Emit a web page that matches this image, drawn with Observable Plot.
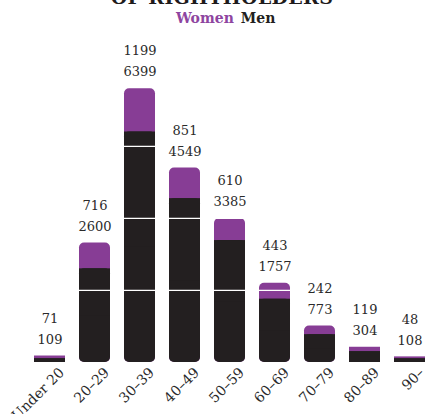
<!DOCTYPE html>
<html>
<head>
<meta charset="utf-8">
<script src="https://cdn.jsdelivr.net/npm/d3@7"></script>
<script src="https://cdn.jsdelivr.net/npm/@observablehq/plot@0.6"></script>
<style>
  html, body { margin: 0; padding: 0; background: #fff; overflow: hidden; }
  #wrap { position: relative; width: 427px; height: 414px; }
  #title { position: absolute; left: 0; width: 444px; top: -12px; text-align: center;
    font: bold 19px/19px "DejaVu Serif", serif; color: #1e1b1c; letter-spacing: 0.3px; white-space: nowrap; }
  #legend { position: absolute; left: 176px; top: 11px; font: bold 14px/14px "DejaVu Serif", serif; white-space: nowrap; }
  #legend .w { color: #8e45a0; }
  #legend .m { color: #231f20; margin-left: 7px; }
  #chart { position: absolute; left: 0; top: 0; }
</style>
</head>
<body>
<div id="wrap">
  <div id="chart"></div>
  <div id="title">OF RIGHTHOLDERS</div>
  <div id="legend"><span class="w">Women</span><span class="m">Men</span></div>
</div>
<script>
const ages = ["Under 20", "20–29", "30–39", "40–49", "50–59", "60–69", "70–79", "80–89", "90–"];
const women = [71, 716, 1199, 851, 610, 443, 242, 119, 48];
const men = [109, 2600, 6399, 4549, 3385, 1757, 773, 304, 108];
const gridValues = [2000, 4000, 6000];

const PURPLE = "#873d95";
const BLACK = "#231f20";
const TEXT = "#2a2a2a";

const data = ages.map((age, i) => ({age, women: women[i], men: men[i], total: women[i] + men[i]}));
const big = data.filter(d => d.total >= 1000);
const small = data.filter(d => d.total < 1000);

const font = {fontFamily: "DejaVu Serif", fontSize: 13, fill: TEXT};

const chart = Plot.plot({
  width: 427,
  height: 414,
  marginTop: 0,
  marginBottom: 52,
  marginLeft: 0,
  marginRight: 0,
  x: {domain: ages, range: [17, 442], padding: 0.32, axis: null},
  y: {domain: [0, 10050], axis: null},
  marks: [
    Plot.barY(big, {x: "age", y1: 0, y2: "total", fill: PURPLE, rx: 5}),
    Plot.barY(big, {x: "age", y1: 0, y2: "men", fill: BLACK, rx: 5}),
    Plot.barY(big, {x: "age", y1: d => d.men / 2, y2: "men", fill: BLACK}),
    Plot.barY(small, {x: "age", y1: 0, y2: "total", fill: PURPLE}),
    Plot.barY(small, {x: "age", y1: 0, y2: "men", fill: BLACK}),
    Plot.ruleY(gridValues, {stroke: "white", strokeWidth: 1.3}),
    Plot.text(data, {x: "age", y: "total", text: d => String(d.men), dy: -16.5, ...font}),
    Plot.text(data, {x: "age", y: "total", text: d => String(d.women), dy: -37.5, ...font}),
    Plot.text(data, {x: "age", y: 0, text: "age", rotate: -45, textAnchor: "end", lineAnchor: "bottom", dx: 15, dy: 11, ...font, fontSize: 14})
  ]
});
document.getElementById("chart").appendChild(chart);
</script>
</body>
</html>
